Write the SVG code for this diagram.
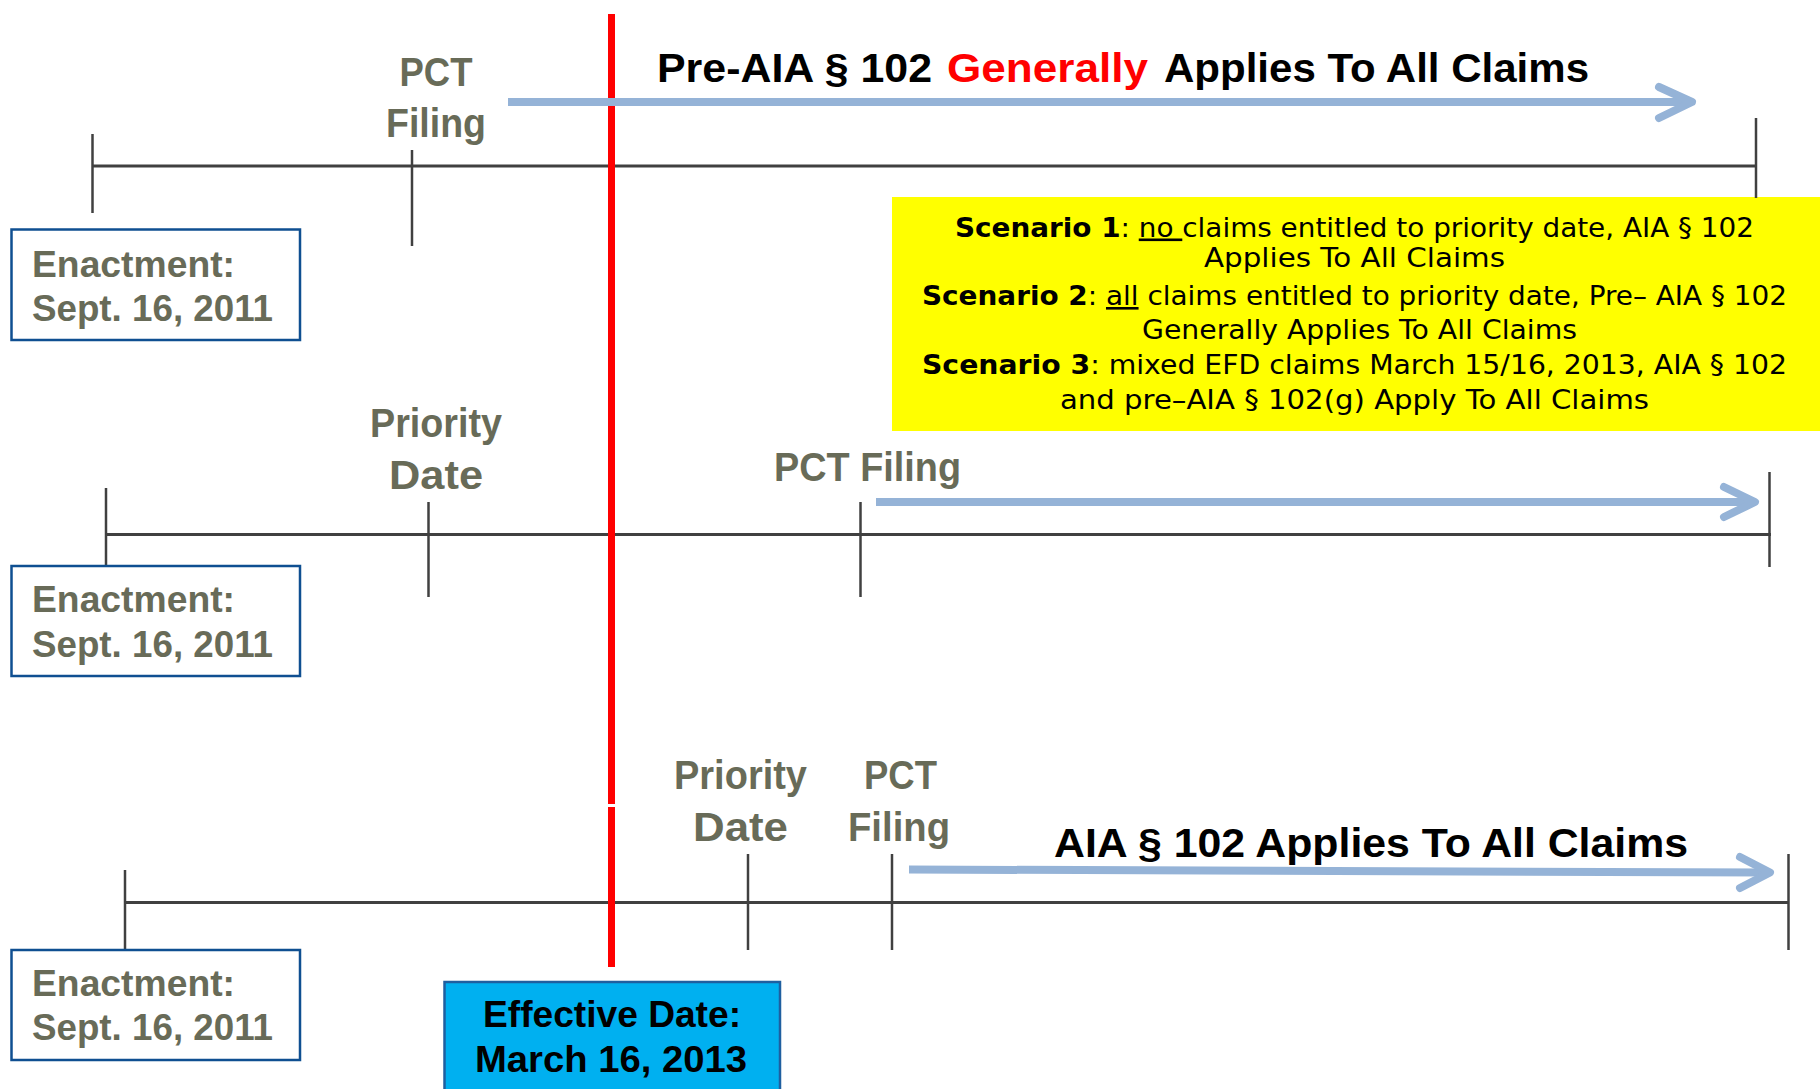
<svg xmlns="http://www.w3.org/2000/svg" width="1820" height="1089" viewBox="0 0 1820 1089">
<style>
.tl{stroke:#404040;stroke-width:3;fill:none}
.tk{stroke:#404040;stroke-width:2.5;fill:none}
.lbl{font-family:"Liberation Sans",Arial,sans-serif;font-weight:bold;font-size:40px;fill:#686b58}
.enb{fill:#fff;stroke:#0f4f91;stroke-width:2.5}
.ent{font-family:"Liberation Sans",Arial,sans-serif;font-weight:bold;font-size:36px;fill:#686b58}
.hd{font-family:"Liberation Sans",Arial,sans-serif;font-weight:bold;font-size:41px;fill:#000}
.arr{stroke:#95b3d7;stroke-width:8;fill:none;stroke-linejoin:round}
.cap{stroke-linecap:round}
.sc{font-family:"DejaVu Sans","Liberation Sans",sans-serif;font-size:26px;fill:#000}
.b{font-weight:bold}
.u{text-decoration:underline}
</style>
<rect width="1820" height="1089" fill="#fff"/>

<g id="scenario-box">
<rect x="892" y="197" width="928" height="234" fill="#ffff00"/>
<text class="sc" x="1354.5" y="236.5" text-anchor="middle" textLength="799" lengthAdjust="spacingAndGlyphs"><tspan class="b">Scenario 1</tspan>: <tspan class="u">no </tspan>claims entitled to priority date, AIA § 102</text>
<text class="sc" x="1354.5" y="267" text-anchor="middle" textLength="301" lengthAdjust="spacingAndGlyphs">Applies To All Claims</text>
<text class="sc" x="1354.5" y="305" text-anchor="middle" textLength="865" lengthAdjust="spacingAndGlyphs"><tspan class="b">Scenario 2</tspan>: <tspan class="u">all</tspan> claims entitled to priority date, Pre– AIA § 102</text>
<text class="sc" x="1359.5" y="338.5" text-anchor="middle" textLength="435" lengthAdjust="spacingAndGlyphs">Generally Applies To All Claims</text>
<text class="sc" x="1354.5" y="373.5" text-anchor="middle" textLength="865" lengthAdjust="spacingAndGlyphs"><tspan class="b">Scenario 3</tspan>: mixed EFD claims March 15/16, 2013, AIA § 102</text>
<text class="sc" x="1354.5" y="408.5" text-anchor="middle" textLength="589" lengthAdjust="spacingAndGlyphs">and pre–AIA § 102(g) Apply To All Claims</text>
</g>

<g id="timeline-1">
<line class="tl" x1="92.5" y1="166" x2="1756" y2="166"/>
<line class="tk" x1="92.5" y1="134" x2="92.5" y2="213"/>
<line class="tk" x1="412" y1="150" x2="412" y2="246"/>
<line class="tk" x1="1756" y1="118" x2="1756" y2="198"/>
</g>
<g id="timeline-2">
<line class="tl" x1="106" y1="534.5" x2="1771" y2="534.5"/>
<line class="tk" x1="106" y1="488" x2="106" y2="567"/>
<line class="tk" x1="428.5" y1="502" x2="428.5" y2="597"/>
<line class="tk" x1="860.5" y1="502" x2="860.5" y2="597"/>
<line class="tk" x1="1769.5" y1="472" x2="1769.5" y2="567"/>
</g>
<g id="timeline-3">
<line class="tl" x1="125" y1="902.5" x2="1788.5" y2="902.5"/>
<line class="tk" x1="125" y1="870" x2="125" y2="950"/>
<line class="tk" x1="748" y1="854" x2="748" y2="950"/>
<line class="tk" x1="892" y1="854" x2="892" y2="950"/>
<line class="tk" x1="1788.5" y1="854" x2="1788.5" y2="950"/>
</g>

<g id="effective-line">
<line x1="611.5" y1="14" x2="611.5" y2="804" stroke="#ff0000" stroke-width="7"/>
<line x1="611.5" y1="807" x2="611.5" y2="967" stroke="#ff0000" stroke-width="7"/>
</g>

<g id="connectors">
<line class="arr" x1="508" y1="102" x2="1688" y2="102"/>
<polyline class="arr cap" points="1659,87 1692,102 1659,118"/>
<line class="arr" x1="876" y1="502" x2="1751" y2="502"/>
<polyline class="arr cap" points="1724,487 1755,502 1724,517"/>
<line class="arr" x1="909" y1="869.5" x2="1766" y2="872.5"/>
<polyline class="arr cap" points="1740,857 1770,872.5 1740,888"/>
</g>

<g id="heading-1">
<text class="hd" x="657" y="82" textLength="275" lengthAdjust="spacingAndGlyphs">Pre-AIA § 102</text>
<text class="hd" x="947" y="82" textLength="201" lengthAdjust="spacingAndGlyphs" style="fill:#ff0000">Generally</text>
<text class="hd" x="1164" y="82" textLength="425" lengthAdjust="spacingAndGlyphs">Applies To All Claims</text>
</g>
<g id="heading-3">
<text class="hd" x="1054" y="857" textLength="634" lengthAdjust="spacingAndGlyphs">AIA § 102 Applies To All Claims</text>
</g>

<g id="label-pct-1">
<text class="lbl" x="436" y="86" text-anchor="middle" textLength="73" lengthAdjust="spacingAndGlyphs">PCT</text>
<text class="lbl" x="436" y="137" text-anchor="middle" textLength="100" lengthAdjust="spacingAndGlyphs">Filing</text>
</g>
<g id="label-priority-2">
<text class="lbl" x="436" y="437" text-anchor="middle" textLength="132" lengthAdjust="spacingAndGlyphs">Priority</text>
<text class="lbl" x="436" y="489" text-anchor="middle" textLength="94" lengthAdjust="spacingAndGlyphs">Date</text>
</g>
<g id="label-pct-2">
<text class="lbl" x="774" y="481" textLength="187" lengthAdjust="spacingAndGlyphs">PCT Filing</text>
</g>
<g id="label-priority-3">
<text class="lbl" x="740.5" y="789" text-anchor="middle" textLength="133" lengthAdjust="spacingAndGlyphs">Priority</text>
<text class="lbl" x="740.5" y="841" text-anchor="middle" textLength="95" lengthAdjust="spacingAndGlyphs">Date</text>
</g>
<g id="label-pct-3">
<text class="lbl" x="900.5" y="789" text-anchor="middle" textLength="73" lengthAdjust="spacingAndGlyphs">PCT</text>
<text class="lbl" x="899" y="841" text-anchor="middle" textLength="102" lengthAdjust="spacingAndGlyphs">Filing</text>
</g>

<g id="enactment-1">
<rect class="enb" x="11.5" y="229.5" width="288.5" height="110.5"/>
<text class="ent" x="32" y="277" textLength="203" lengthAdjust="spacingAndGlyphs">Enactment:</text>
<text class="ent" x="32" y="321" textLength="241" lengthAdjust="spacingAndGlyphs">Sept. 16, 2011</text>
</g>
<g id="enactment-2">
<rect class="enb" x="11.5" y="566" width="288.5" height="110"/>
<text class="ent" x="32" y="612" textLength="203" lengthAdjust="spacingAndGlyphs">Enactment:</text>
<text class="ent" x="32" y="657" textLength="241" lengthAdjust="spacingAndGlyphs">Sept. 16, 2011</text>
</g>
<g id="enactment-3">
<rect class="enb" x="11.5" y="950" width="288.5" height="110"/>
<text class="ent" x="32" y="996" textLength="203" lengthAdjust="spacingAndGlyphs">Enactment:</text>
<text class="ent" x="32" y="1040" textLength="241" lengthAdjust="spacingAndGlyphs">Sept. 16, 2011</text>
</g>

<g id="effective-date">
<rect x="444.5" y="982" width="335.5" height="115" fill="#00b0f0" stroke="#1f5fa0" stroke-width="2.5"/>
<text class="hd" x="612" y="1027" text-anchor="middle" textLength="258" lengthAdjust="spacingAndGlyphs" style="font-size:37px">Effective Date:</text>
<text class="hd" x="611" y="1072" text-anchor="middle" textLength="272" lengthAdjust="spacingAndGlyphs" style="font-size:37px">March 16, 2013</text>
</g>
</svg>
